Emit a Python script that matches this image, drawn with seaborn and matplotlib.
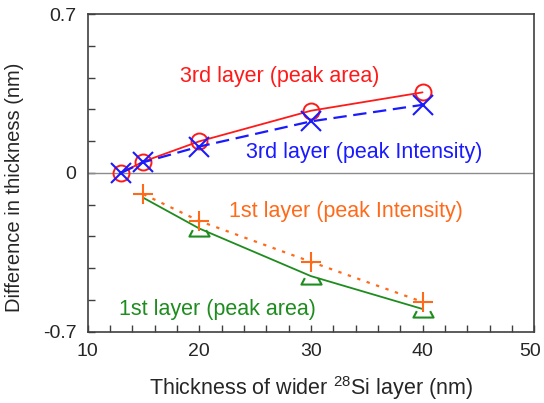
import numpy as np
import pandas as pd
import matplotlib.pyplot as plt
import matplotlib.transforms as mtransforms
import seaborn as sns
from matplotlib.path import Path
from matplotlib.ticker import MultipleLocator

# values
x_3rd = [13, 15, 20, 30, 40]
area_3rd = [0.0, 0.050, 0.139, 0.274, 0.355]
intensity_3rd = [0.0, 0.047, 0.116, 0.227, 0.300]

x_1st = [15, 20, 30, 40]
intensity_1st = [-0.094, -0.212, -0.392, -0.569]
area_1st = [-0.11, -0.245, -0.455, -0.600]

sns.set_style('white')
plt.rcParams['font.family'] = ['Liberation Sans', 'DejaVu Sans']
plt.rcParams['mathtext.default'] = 'regular'

RED = '#ff1a1a'
BLUE = '#1a1aff'
ORANGE = '#ff6a1a'
GREEN = '#1e8c1e'

# open-topped trapezoid, as the green markers look in the source
trap = Path([(-0.33, -0.08), (-0.5, -0.4), (0.5, -0.4), (0.33, -0.08)])

fig = plt.figure(figsize=(5.44, 4.03), dpi=100)
ax = fig.add_axes([0.161, 0.177, 0.821, 0.788])

ax.axhline(0, color='#8c8c8c', lw=1, zorder=1)

sns.lineplot(x=x_3rd, y=area_3rd, ax=ax, color=RED, lw=1.3,
             marker='o', markersize=11.5, markerfacecolor='none',
             markeredgecolor=RED, markeredgewidth=1.4, zorder=3)
sns.lineplot(x=x_3rd, y=intensity_3rd, ax=ax, color=BLUE, lw=1.6,
             linestyle=(0, (6, 3)), marker='x', markersize=14,
             markeredgecolor=BLUE, markeredgewidth=1.5, zorder=4)
sns.lineplot(x=x_1st, y=intensity_1st, ax=ax, color=ORANGE, lw=1.6,
             linestyle=(0, (1.5, 3)), marker='+', markersize=15,
             markeredgecolor=ORANGE, markeredgewidth=1.5, zorder=4)
sns.lineplot(x=x_1st, y=area_1st, ax=ax, color=GREEN, lw=1.3,
             marker=trap, markersize=14.5, markerfacecolor='none',
             markeredgecolor=GREEN, markeredgewidth=1.5,
             markevery=[1, 2, 3], zorder=3)

fs = 15.5
ax.text(27.2, 0.423, '3rd layer (peak area)', color=RED, fontsize=fs,
        ha='center', va='center')
ax.text(34.75, 0.09, '3rd layer (peak Intensity)', color=BLUE, fontsize=fs,
        ha='center', va='center')
ax.text(33.1, -0.171, '1st layer (peak Intensity)', color=ORANGE, fontsize=fs,
        ha='center', va='center')
ax.text(21.6, -0.603, '1st layer (peak area)', color=GREEN, fontsize=fs,
        ha='center', va='center')

ax.set_xlim(10, 50)
ax.set_ylim(-0.7, 0.7)
ax.set_xticks([10, 20, 30, 40, 50])
ax.xaxis.set_minor_locator(MultipleLocator(2))
ax.set_yticks([-0.7, 0, 0.7])
ax.set_yticklabels(['-0.7', '0', '0.7'])
ax.yaxis.set_minor_locator(MultipleLocator(0.14))

ax.tick_params(axis='both', which='both', direction='in', color='#404040',
               width=1, labelsize=14, bottom=True, left=True)
ax.tick_params(axis='both', which='major', length=5, pad=8)
ax.tick_params(axis='both', which='minor', length=5)

# nudge the last x label so it stays inside the picture
last = ax.get_xticklabels()[-1]
last.set_transform(last.get_transform() +
                   mtransforms.ScaledTranslation(-3 / 72, 0, fig.dpi_scale_trans))

for s in ax.spines.values():
    s.set_color('#404040')
    s.set_linewidth(1.2)

ax.set_xlabel('Thickness of wider $^{28}$Si layer (nm)', fontsize=15.5,
              labelpad=10)
ax.set_ylabel('Difference in thickness (nm)', fontsize=14.5)
ax.yaxis.set_label_coords(-0.142, 0.456)

fig.savefig('out.png', dpi=100)
